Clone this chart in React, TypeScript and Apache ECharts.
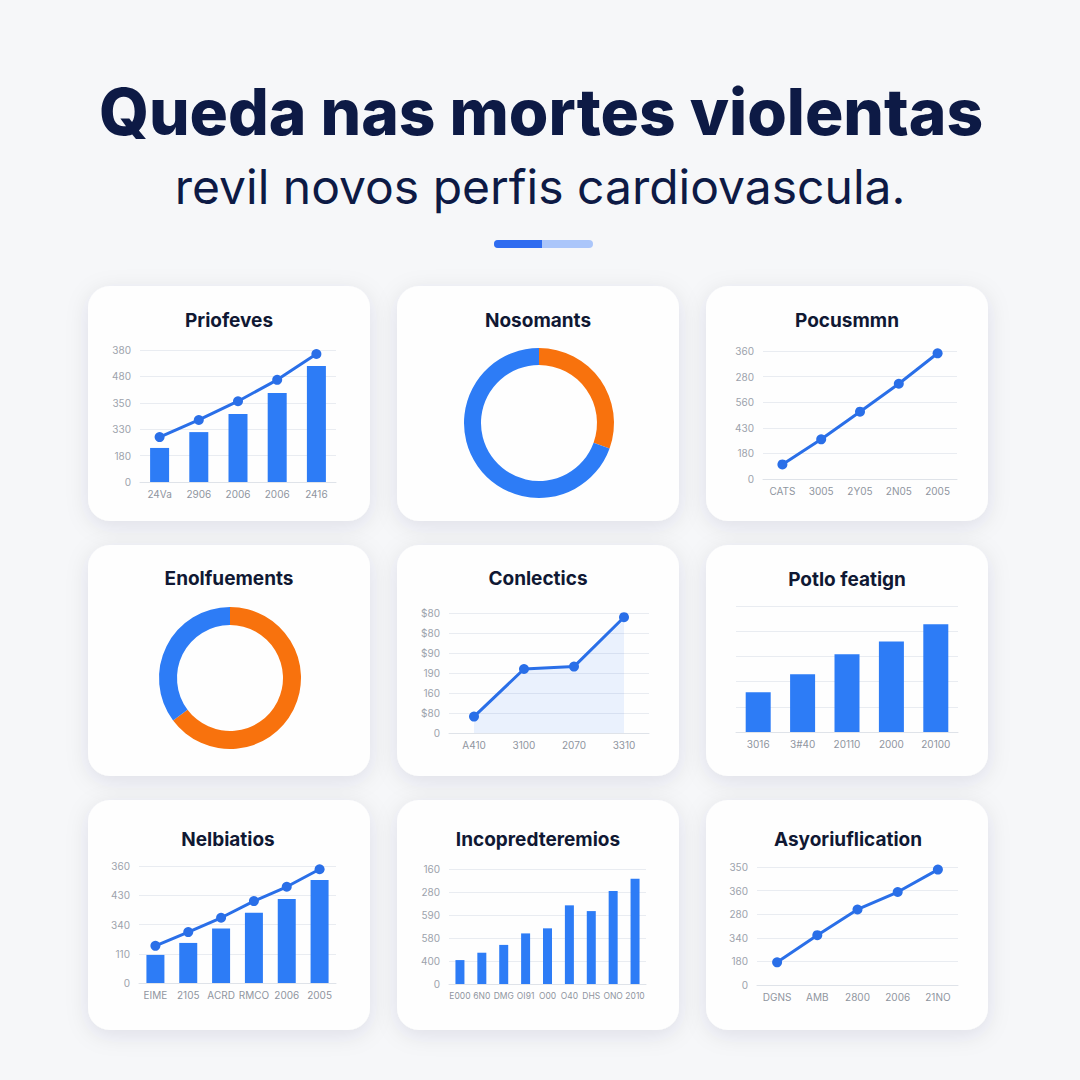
import React, { useEffect, useRef } from "react";
import * as echarts from "echarts";

const pageTitle = "Queda nas mortes violentas";
const pageSubtitle = "revil novos perfis cardiovascula.";
const cardTitles = [
  "Priofeves", "Nosomants", "Pocusmmn",
  "Enolfuements", "Conlectics", "Potlo featign",
  "Nelbiatios", "Incopredteremios", "Asyoriuflication",
];

// Card 1 – bars + line
const c1Cats = ["24Va", "2906", "2006", "2006", "2416"];
const c1Ticks = ["0", "180", "330", "350", "480", "380"];
const c1Bars = [1.29, 1.89, 2.58, 3.37, 4.39];
const c1Line = [1.7, 2.35, 3.06, 3.87, 4.85];

// Card 2 – donut (orange, blue)
const c2Slices = [30.5, 69.5];

// Card 3 – line
const c3Cats = ["CATS", "3005", "2Y05", "2N05", "2005"];
const c3Ticks = ["0", "180", "430", "560", "280", "360"];
const c3Line = [0.57, 1.55, 2.63, 3.72, 4.91];

// Card 4 – donut (orange, blue)
const c4Slices = [64.8, 35.2];

// Card 5 – area line
const c5Cats = ["A410", "3100", "2070", "3310"];
const c5Ticks = ["0", "$80", "160", "190", "$90", "$80", "$80"];
const c5Line = [0.82, 3.2, 3.32, 5.79];

// Card 6 – bars
const c6Cats = ["3016", "3#40", "20110", "2000", "20100"];
const c6Bars = [1.58, 2.29, 3.09, 3.59, 4.28];

// Card 7 – bars + line
const c7Cats = ["EIME", "2105", "ACRD", "RMCO", "2006", "2005"];
const c7Ticks = ["0", "110", "340", "430", "360"];
const c7Bars = [0.96, 1.37, 1.86, 2.4, 2.87, 3.52];
const c7Line = [1.27, 1.74, 2.23, 2.8, 3.29, 3.89];

// Card 8 – bars
const c8Cats = ["E000", "6N0", "DMG", "OI91", "O00", "O40", "DHS", "ONO", "2010"];
const c8Ticks = ["0", "400", "580", "590", "280", "160"];
const c8Bars = [1.04, 1.36, 1.7, 2.2, 2.42, 3.42, 3.17, 4.04, 4.58];

// Card 9 – line
const c9Cats = ["DGNS", "AMB", "2800", "2006", "21NO"];
const c9Ticks = ["0", "180", "340", "280", "360", "350"];
const c9Line = [0.96, 2.11, 3.2, 3.94, 4.89];

const BLUE = "#2d7cf6";
const LINE = "#2a6fe8";
const ORANGE = "#f8720d";
const NAVY = "#0d1a45";
const FONT = "Inter, 'Noto Sans', sans-serif";

const cards = [
  { x: 88, y: 286, w: 282, h: 235 },
  { x: 397, y: 286, w: 282, h: 235 },
  { x: 706, y: 286, w: 282, h: 235 },
  { x: 88, y: 545, w: 282, h: 231 },
  { x: 397, y: 545, w: 282, h: 231 },
  { x: 706, y: 545, w: 282, h: 231 },
  { x: 88, y: 800, w: 282, h: 230 },
  { x: 397, y: 800, w: 282, h: 230 },
  { x: 706, y: 800, w: 282, h: 230 },
];
const titlePos = [
  [229, 320], [538, 320], [847, 320],
  [229, 578], [538, 578], [847, 579],
  [228, 839], [538, 839], [848, 839],
];

function yAx(gi: number, max: number, ticks: string[] | null) {
  return {
    type: "value",
    gridIndex: gi,
    min: 0,
    max,
    interval: 1,
    axisLine: { show: false },
    axisTick: { show: false },
    splitLine: { lineStyle: { color: "#e9ecf1", width: 1 } },
    axisLabel: {
      show: !!ticks,
      color: "#9ca2ac",
      fontSize: 10,
      fontFamily: FONT,
      margin: 9,
      formatter: (v: number) => (ticks ? ticks[Math.round(v)] ?? "" : ""),
    },
  };
}
function xAx(gi: number, cats: string[], fs = 10) {
  return {
    type: "category",
    gridIndex: gi,
    data: cats,
    boundaryGap: true,
    axisLine: { lineStyle: { color: "#dfe3e9" } },
    axisTick: { show: false },
    axisLabel: { color: "#8f959f", fontSize: fs, fontFamily: FONT, margin: 7, interval: 0 },
  };
}
function bar(gi: number, data: number[], w: number) {
  return {
    type: "bar", xAxisIndex: gi, yAxisIndex: gi, data, barWidth: w,
    itemStyle: { color: BLUE }, silent: true, z: 2,
  };
}
function line(gi: number, data: number[], area = false) {
  const s: any = {
    type: "line", xAxisIndex: gi, yAxisIndex: gi, data,
    symbol: "circle", symbolSize: 10, showSymbol: true,
    lineStyle: { width: 3, color: LINE }, itemStyle: { color: LINE },
    silent: true, z: 3,
  };
  if (area) s.areaStyle = { color: "rgba(47,124,246,0.14)" };
  return s;
}
function donut(center: number[], radius: number[], vals: number[], colors: string[]) {
  return {
    type: "pie", center, radius, startAngle: 90, clockwise: true,
    label: { show: false }, labelLine: { show: false }, silent: true,
    data: vals.map((v, i) => ({ value: v, name: "s" + i, itemStyle: { color: colors[i] } })),
  };
}

export default function App() {
  const ref = useRef<HTMLDivElement>(null);
  useEffect(() => {
    if (!ref.current) return;
    const chart = echarts.init(ref.current, undefined, { renderer: "svg" });

    const grids = [
      { left: 140, top: 350, width: 196, height: 132 },
      { left: 763, top: 351, width: 194, height: 128 },
      { left: 449, top: 613, width: 200, height: 120 },
      { left: 736, top: 606, width: 222, height: 126 },
      { left: 139, top: 866, width: 197, height: 117 },
      { left: 449, top: 869, width: 197, height: 115 },
      { left: 757, top: 867, width: 201, height: 118 },
    ];

    const graphic: any[] = [];
    cards.forEach((c) => {
      graphic.push({
        type: "rect", z: -10,
        shape: { x: c.x, y: c.y, width: c.w, height: c.h, r: 22 },
        style: { fill: "#fefefe", shadowBlur: 22, shadowColor: "rgba(25,35,70,0.10)", shadowOffsetY: 5 },
      });
    });
    cardTitles.forEach((t, i) => {
      graphic.push({
        type: "text", x: titlePos[i][0], y: titlePos[i][1], z: 10,
        style: {
          text: t, fill: "#101833", fontSize: 19, fontWeight: 700, fontFamily: FONT,
          align: "center", verticalAlign: "middle", textAlign: "center", textVerticalAlign: "middle",
        },
      });
    });
    graphic.push({
      type: "text", x: 541, y: 111, z: 10,
      style: {
        text: pageTitle, fill: NAVY, fontSize: 64, fontWeight: 800, fontFamily: FONT,
        align: "center", verticalAlign: "middle", textAlign: "center", textVerticalAlign: "middle",
      },
    });
    graphic.push({
      type: "text", x: 540, y: 186, z: 10,
      style: {
        text: pageSubtitle, fill: NAVY, fontSize: 48, fontWeight: 400, fontFamily: FONT,
        align: "center", verticalAlign: "middle", textAlign: "center", textVerticalAlign: "middle",
      },
    });
    graphic.push({
      type: "rect", z: 10, shape: { x: 494, y: 240, width: 99, height: 8, r: 4 },
      style: { fill: "#abc6fa" },
    });
    graphic.push({
      type: "rect", z: 11, shape: { x: 494, y: 240, width: 48, height: 8, r: [4, 0, 0, 4] },
      style: { fill: "#2f6cf0" },
    });

    chart.setOption({
      animation: false,
      backgroundColor: "#f6f7f9",
      grid: grids,
      xAxis: [
        xAx(0, c1Cats), xAx(1, c3Cats), xAx(2, c5Cats), xAx(3, c6Cats),
        xAx(4, c7Cats), xAx(5, c8Cats, 8.5), xAx(6, c9Cats),
      ],
      yAxis: [
        yAx(0, 5, c1Ticks), yAx(1, 5, c3Ticks), yAx(2, 6, c5Ticks), yAx(3, 5, null),
        yAx(4, 4, c7Ticks), yAx(5, 5, c8Ticks), yAx(6, 5, c9Ticks),
      ],
      series: [
        bar(0, c1Bars, 19), line(0, c1Line),
        line(1, c3Line),
        line(2, c5Line, true),
        bar(3, c6Bars, 25),
        bar(4, c7Bars, 18), line(4, c7Line),
        bar(5, c8Bars, 9),
        line(6, c9Line),
        donut([539, 423], [58, 75], c2Slices, [ORANGE, BLUE]),
        donut([230, 678], [53, 71], c4Slices, [ORANGE, BLUE]),
      ],
      graphic,
    });
    return () => chart.dispose();
  }, []);
  return (
    <div
      ref={ref}
      style={{ position: "absolute", left: 0, top: 0, width: 1080, height: 1080 }}
    />
  );
}
